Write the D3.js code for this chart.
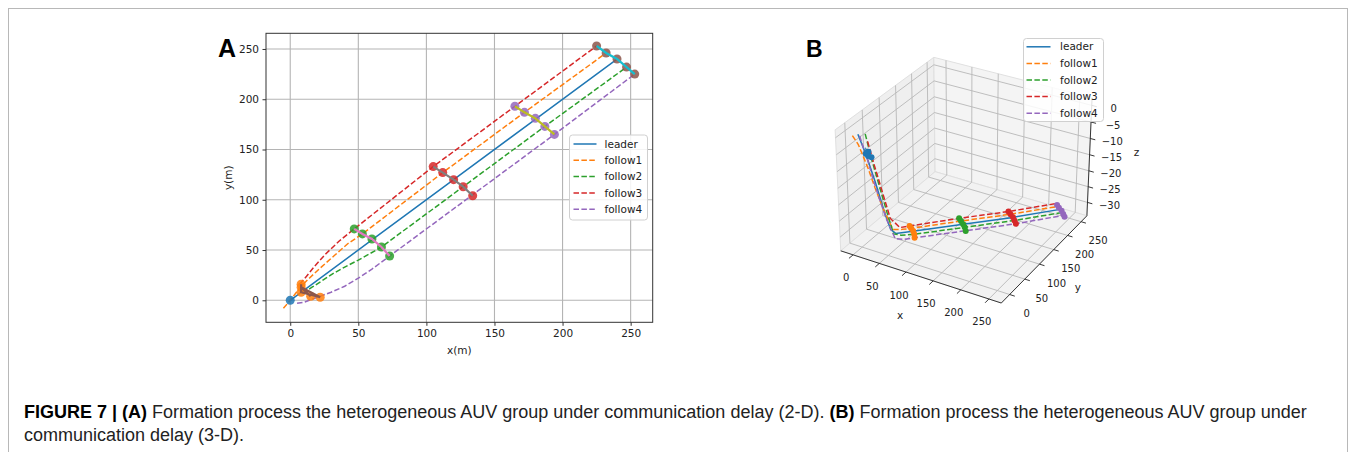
<!DOCTYPE html>
<html>
<head>
<meta charset="utf-8">
<script src="https://cdn.jsdelivr.net/npm/d3@7"></script>
<style>
  body { margin: 0; background: #fff; }
</style>
</head>
<body>
<div id="fig"></div>
<script>
// series
const names = ['leader', 'follow1', 'follow2', 'follow3', 'follow4'];
const colors = ['#1f77b4', '#ff7f0e', '#2ca02c', '#d62728', '#9467bd'];
const dashed = [false, true, true, true, true];

// 2-D paths, x(m), y(m)
const leaderXY = [[0, 0], [60, 60], [120, 120], [180, 180], [240, 240]];
const follow1XY = [[-5, -8], [0, 0], [4, 7], [8, 14], [14, 22], [22, 32], [32, 44], [42, 56], [53, 66], [112, 127], [172, 187], [232, 246]];
const follow2XY = [[9, 7], [16, 13], [24, 20], [32, 27], [40, 33], [50, 40], [58, 46], [67, 53], [127, 113], [187, 173], [247, 232]];
const follow3XY = [[7, 16], [12, 24], [18, 34], [26, 46], [36, 59], [47, 71], [105, 133], [165, 193], [225, 253]];
const follow4XY = [[5, -3], [10, -2], [16, 1], [22, 4], [30, 8], [40, 14], [50, 22], [60, 31], [73, 44], [134, 105], [194, 165], [253, 225]];

// depth (z) of each point for the 3-D view
const leaderZ = [0, -31.5, -31.5, -31.5, -31];
const leaderDive = [[0, 0, 0], [8, 8, -6], [18, 18, -15], [28, 28, -25], [34, 34, -30], [40, 40, -31.5]];
const follow1Z = [0, -3, -7, -11, -17, -24, -31, -31.5, -31.5, -31.5, -31.5, -31];
const follow2Z = [0, -8, -16, -24, -31, -31.5, -31.5, -31.5, -31.5, -31.5, -31];
const follow3Z = [-3, -10, -18, -28, -31.5, -31.5, -31.5, -31.5, -31];
const follow4Z = [0, -3, -7, -12, -18, -25, -31, -31.5, -31.5, -31.5, -31.5, -31];

// formation snapshots (5 vehicles each)
const snap0 = [[8, 16], [8, 8], [22, 3], [8, 13], [15, 4]];
const snap1 = [[47, 71], [53, 66], [60, 61], [67, 53], [73, 44]];
const snap2 = [[105, 133], [112, 127], [120, 120], [127, 113], [134, 104]];
const snap3 = [[165, 193], [172, 187], [180, 181], [187, 173], [194, 165]];
const snap4 = [[225, 253], [232, 246], [240, 240], [247, 232], [253, 225]];
const snapZ = [-6, -31.5, -31.5, -31.5, -31.5];
const snapMarker2D = ['#ff7f0e', '#2ca02c', '#d62728', '#9467bd', '#8c564b'];
const snapLine2D = ['#8c564b', '#e377c2', '#7f7f7f', '#bcbd22', '#17becf'];
const snapColor3D = ['#1f77b4', '#ff7f0e', '#2ca02c', '#d62728', '#9467bd'];

const ticks2 = [0, 50, 100, 150, 200, 250];
const ticksZ = [-30, -25, -20, -15, -10, -5, 0];

const captionLine1 = [
  ['FIGURE 7 | (A)', true],
  [' Formation process the heterogeneous AUV group under communication delay (2-D). ', false],
  ['(B)', true],
  [' Formation process the heterogeneous AUV group under', false]
];
const captionLine2 = 'communication delay (3-D).';

const paths2D = [leaderXY, follow1XY, follow2XY, follow3XY, follow4XY];
const depths = [leaderZ, follow1Z, follow2Z, follow3Z, follow4Z];
const snaps = [snap0, snap1, snap2, snap3, snap4];

const W = 1356, H = 452;
const MPL = '"DejaVu Sans", sans-serif';
const SANS = '"Liberation Sans", Arial, sans-serif';

const svg = d3.select('#fig').append('svg')
  .attr('width', W).attr('height', H)
  .attr('font-family', MPL)
  .style('background', '#fff');

svg.append('rect')
  .attr('x', 8.5).attr('y', 8.5).attr('width', 1339).attr('height', 480)
  .attr('fill', 'none').attr('stroke', '#b8b8b8');

/*
 * panel A (2-D)
 */
const ax = {left: 266, right: 652.7, top: 33.3, bottom: 322.3};
const x2 = d3.scaleLinear().domain([-17.8, 266.2]).range([ax.left, ax.right]);
const y2 = d3.scaleLinear().domain([-21.9, 265.6]).range([ax.bottom, ax.top]);

const gA = svg.append('g');

gA.append('g').selectAll('line').data(ticks2).join('line')
  .attr('x1', d => x2(d)).attr('x2', d => x2(d))
  .attr('y1', ax.top).attr('y2', ax.bottom)
  .attr('stroke', '#b4b4b4').attr('stroke-width', 1.1);
gA.append('g').selectAll('line').data(ticks2).join('line')
  .attr('y1', d => y2(d)).attr('y2', d => y2(d))
  .attr('x1', ax.left).attr('x2', ax.right)
  .attr('stroke', '#b4b4b4').attr('stroke-width', 1.1);

const xAxisA = gA.append('g').attr('transform', `translate(0,${ax.bottom})`)
  .call(d3.axisBottom(x2).tickValues(ticks2).tickSize(3.5).tickPadding(3.5).tickSizeOuter(0));
const yAxisA = gA.append('g').attr('transform', `translate(${ax.left},0)`)
  .call(d3.axisLeft(y2).tickValues(ticks2).tickSize(3.5).tickPadding(3.5).tickSizeOuter(0));
[xAxisA, yAxisA].forEach(a => {
  a.attr('font-family', MPL).attr('font-size', 10.5);
  a.select('.domain').remove();
  a.selectAll('text').attr('fill', '#222');
  a.selectAll('line').attr('stroke', '#333');
});

gA.append('rect')
  .attr('x', ax.left).attr('y', ax.top)
  .attr('width', ax.right - ax.left).attr('height', ax.bottom - ax.top)
  .attr('fill', 'none').attr('stroke', '#333').attr('stroke-width', 1);

gA.append('text').attr('x', (ax.left + ax.right) / 2).attr('y', 354)
  .attr('text-anchor', 'middle').attr('font-size', 10.5).attr('fill', '#222').text('x(m)');
gA.append('text')
  .attr('transform', `translate(232,${(ax.top + ax.bottom) / 2}) rotate(-90)`)
  .attr('text-anchor', 'middle').attr('font-size', 10.5).attr('fill', '#222').text('y(m)');

const line2 = d3.line().x(d => x2(d[0])).y(d => y2(d[1]));

gA.append('g').selectAll('path').data(paths2D).join('path')
  .attr('d', line2)
  .attr('fill', 'none')
  .attr('stroke', (d, i) => colors[i])
  .attr('stroke-width', 1.5)
  .attr('stroke-dasharray', (d, i) => dashed[i] ? '5.5,2.4' : null);

// start point of the leader
gA.append('circle').attr('cx', x2(0)).attr('cy', y2(0)).attr('r', 4.5)
  .attr('fill', colors[0]).attr('opacity', 0.85);

const snapA = gA.append('g').selectAll('g').data(snaps).join('g');
snapA.each(function(s, k) {
  d3.select(this).selectAll('circle').data(s).join('circle')
    .attr('cx', d => x2(d[0])).attr('cy', d => y2(d[1])).attr('r', 4.5)
    .attr('fill', snapMarker2D[k]).attr('opacity', 0.85);
});
snapA.append('path')
  .attr('d', line2)
  .attr('fill', 'none')
  .attr('stroke', (d, i) => snapLine2D[i])
  .attr('stroke-width', 2.2);

// legend A
const legA = gA.append('g').attr('transform', 'translate(569.5,135)');
legA.append('rect').attr('width', 78).attr('height', 85).attr('rx', 3)
  .attr('fill', '#fff').attr('fill-opacity', 0.85).attr('stroke', '#d0d0d0');
const rowA = legA.selectAll('g').data(names).join('g')
  .attr('transform', (d, i) => `translate(0,${9 + i * 16.3})`);
rowA.append('line').attr('x1', 4).attr('x2', 27)
  .attr('stroke', (d, i) => colors[i]).attr('stroke-width', 1.5)
  .attr('stroke-dasharray', (d, i) => dashed[i] ? '5.5,2.4' : null);
rowA.append('text').attr('x', 35).attr('dy', '0.35em')
  .attr('font-size', 10.5).attr('fill', '#222').text(d => d);

svg.append('text').attr('x', 218).attr('y', 57)
  .attr('font-family', SANS)
  .attr('font-weight', 'bold').attr('font-size', 25).text('A');

/*
 * panel B (3-D)
 */
const elev = 30 * Math.PI / 180, azim = -60 * Math.PI / 180, dist = 10;
const aspect = [4, 4, 3].map(v => v * 1.8294640721620434 / Math.hypot(4, 4, 3));
const xl3 = [-23.8, 271.8], yl3 = [-27, 272], zl3 = [-34.3, 2.3];
const nx = d3.scaleLinear().domain(xl3).range([0, aspect[0]]);
const ny = d3.scaleLinear().domain(yl3).range([0, aspect[1]]);
const nz = d3.scaleLinear().domain(zl3).range([0, aspect[2]]);
const R = aspect.map(v => v / 2);
const nv = [Math.cos(azim) * Math.cos(elev), Math.sin(azim) * Math.cos(elev), Math.sin(elev)];
const ulen = Math.hypot(nv[0], nv[1]);
const uv = [-nv[1] / ulen, nv[0] / ulen, 0];
const vv = [nv[1] * uv[2] - nv[2] * uv[1], nv[2] * uv[0] - nv[0] * uv[2], nv[0] * uv[1] - nv[1] * uv[0]];
const dot = (a, b) => a[0] * b[0] + a[1] * b[1] + a[2] * b[2];
const sxPix = d3.scaleLinear().domain([-0.095, 0.09]).range([813.05, 1110.9]);
const syPix = d3.scaleLinear().domain([-0.095, 0.09]).range([327.45, 29.6]);

function proj(p) {
  const d = [nx(p[0]) - R[0], ny(p[1]) - R[1], nz(p[2]) - R[2]];
  const w = dist - dot(nv, d);
  return [sxPix(dot(uv, d) / w), syPix(dot(vv, d) / w)];
}
const line3 = d3.line().x(d => proj(d)[0]).y(d => proj(d)[1]);

const [X0, X1] = xl3, [Y0, Y1] = yl3, [Z0, Z1] = zl3;
const gB = svg.append('g');

// panes
const panes = [
  {pts: [[X0, Y0, Z0], [X0, Y1, Z0], [X0, Y1, Z1], [X0, Y0, Z1]], fill: '#efefef'},
  {pts: [[X0, Y1, Z0], [X1, Y1, Z0], [X1, Y1, Z1], [X0, Y1, Z1]], fill: '#f4f4f4'},
  {pts: [[X0, Y0, Z0], [X1, Y0, Z0], [X1, Y1, Z0], [X0, Y1, Z0]], fill: '#f2f2f2'}
];
gB.append('g').selectAll('path').data(panes).join('path')
  .attr('d', d => line3(d.pts) + 'Z')
  .attr('fill', d => d.fill).attr('stroke', '#e0e0e0').attr('stroke-width', 1);

// grid lines on panes
const grid3 = [];
ticks2.forEach(y => { grid3.push([[X0, y, Z0], [X0, y, Z1]]); grid3.push([[X0, y, Z0], [X1, y, Z0]]); });
ticks2.forEach(x => { grid3.push([[x, Y1, Z0], [x, Y1, Z1]]); grid3.push([[x, Y0, Z0], [x, Y1, Z0]]); });
ticksZ.forEach(z => { grid3.push([[X0, Y0, z], [X0, Y1, z]]); grid3.push([[X0, Y1, z], [X1, Y1, z]]); });
gB.append('g').selectAll('path').data(grid3).join('path')
  .attr('d', line3).attr('fill', 'none')
  .attr('stroke', '#b8b8b8').attr('stroke-width', 0.9);

// axis lines, ticks, labels
const axes3 = [[[X0, Y0, Z0], [X1, Y0, Z0]], [[X1, Y0, Z0], [X1, Y1, Z0]], [[X1, Y1, Z0], [X1, Y1, Z1]]];
gB.append('g').selectAll('path').data(axes3).join('path')
  .attr('d', line3).attr('fill', 'none').attr('stroke', '#222').attr('stroke-width', 0.9);

const tickSegs = [];
ticks2.forEach(x => tickSegs.push([[x, Y0, Z0], [x, Y0 - 12, Z0]]));
ticks2.forEach(y => tickSegs.push([[X1, y, Z0], [X1 + 9, y, Z0]]));
ticksZ.forEach(z => tickSegs.push([[X1, Y1, z], [X1 + 9, Y1, z]]));
gB.append('g').selectAll('path').data(tickSegs).join('path')
  .attr('d', line3).attr('stroke', '#222').attr('stroke-width', 0.9);

const tickLabels3 = [];
ticks2.forEach(x => { const p = proj([x, Y0, Z0]); tickLabels3.push([p[0] - 7, p[1] + 23, String(x)]); });
ticks2.forEach(y => { const p = proj([X1, y, Z0]); tickLabels3.push([p[0] + 17, p[1] + 19, String(y)]); });
ticksZ.forEach(z => { const p = proj([X1, Y1, z]); tickLabels3.push([p[0] + 22, p[1] + 3, z < 0 ? '\u2212' + (-z) : String(z)]); });
gB.append('g').selectAll('text').data(tickLabels3).join('text')
  .attr('x', d => d[0]).attr('y', d => d[1]).attr('dy', '0.35em')
  .attr('text-anchor', 'middle').attr('font-size', 10).attr('fill', '#222')
  .text(d => d[2]);

const xm = proj([124, Y0, Z0]), ym = proj([X1, 122, Z0]), zm = proj([X1, Y1, -16]);
const axisNames3 = [[xm[0] - 19, xm[1] + 39, 'x'], [ym[0] + 32, ym[1] + 30, 'y'], [zm[0] + 47, zm[1] - 6, 'z']];
gB.append('g').selectAll('text').data(axisNames3).join('text')
  .attr('x', d => d[0]).attr('y', d => d[1]).attr('dy', '0.35em')
  .attr('text-anchor', 'middle').attr('font-size', 10.5).attr('fill', '#222')
  .text(d => d[2]);

// trajectories in 3-D
const paths3D = paths2D.map((pts, i) => i === 0
  ? leaderDive.concat(pts.slice(1).map((p, j) => [p[0], p[1], leaderZ[j + 1]]))
  : pts.map((p, j) => [p[0], p[1], depths[i][j]]));
gB.append('g').selectAll('path').data(paths3D).join('path')
  .attr('d', line3).attr('fill', 'none')
  .attr('stroke', (d, i) => colors[i]).attr('stroke-width', 1.5)
  .attr('stroke-dasharray', (d, i) => dashed[i] ? '5.5,2.4' : null);

const snaps3D = snaps.map((s, k) => s.map(p => [p[0], p[1], snapZ[k]]));
const snapB = gB.append('g').selectAll('g').data(snaps3D).join('g');
snapB.append('path').attr('d', line3).attr('fill', 'none')
  .attr('stroke', (d, i) => snapColor3D[i]).attr('stroke-width', 3);
snapB.each(function(s, k) {
  d3.select(this).selectAll('circle').data(s).join('circle')
    .attr('cx', d => proj(d)[0]).attr('cy', d => proj(d)[1]).attr('r', 3)
    .attr('fill', snapColor3D[k]);
});

// legend B
const legB = gB.append('g').attr('transform', 'translate(1023.5,38.5)');
legB.append('rect').attr('width', 80).attr('height', 83).attr('rx', 3)
  .attr('fill', '#fff').attr('fill-opacity', 0.85).attr('stroke', '#d0d0d0');
const rowB = legB.selectAll('g').data(names).join('g')
  .attr('transform', (d, i) => `translate(0,${8.3 + i * 16.6})`);
rowB.append('line').attr('x1', 3).attr('x2', 27)
  .attr('stroke', (d, i) => colors[i]).attr('stroke-width', 1.5)
  .attr('stroke-dasharray', (d, i) => dashed[i] ? '5.5,2.4' : null);
rowB.append('text').attr('x', 36.5).attr('dy', '0.35em')
  .attr('font-size', 10.5).attr('fill', '#222').text(d => d);

svg.append('text').attr('x', 806).attr('y', 56.5)
  .attr('font-family', SANS)
  .attr('font-weight', 'bold').attr('font-size', 23).text('B');

/*
 * caption
 */
const cap = svg.append('g').attr('font-family', SANS).attr('fill', '#222');
const c1 = cap.append('text').attr('x', 24).attr('y', 418).attr('font-size', 16);
captionLine1.forEach(([t, b]) => c1.append('tspan')
  .attr('font-weight', b ? 'bold' : null).attr('fill', b ? '#000' : null).text(t));
const c2 = cap.append('text').attr('x', 24).attr('y', 441).attr('font-size', 16).text(captionLine2);
const fs = 16 * 1283 / c1.node().getComputedTextLength();
c1.attr('font-size', fs);
c2.attr('font-size', fs);
</script>
</body>
</html>
